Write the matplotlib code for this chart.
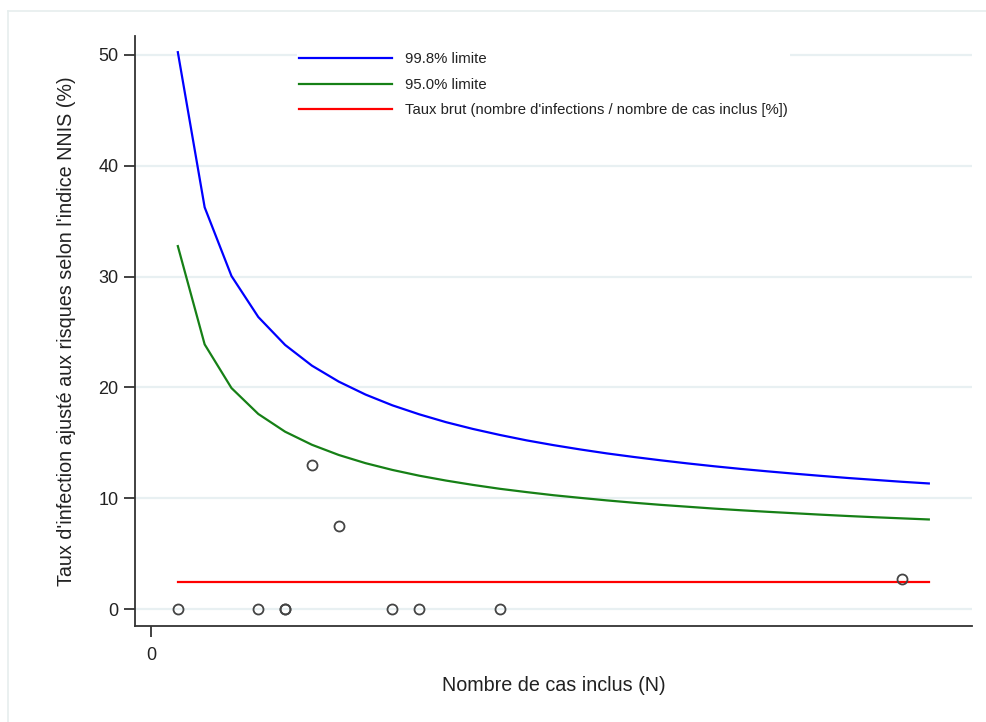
import matplotlib
matplotlib.use("Agg")
import matplotlib.pyplot as plt
from matplotlib.lines import Line2D

plt.rcParams['font.family'] = ['Liberation Sans', 'DejaVu Sans']

# Data
n_cases = list(range(1, 30))
limit_998 = [50.25, 36.25, 30.05, 26.35, 23.83, 21.96, 20.52, 19.35, 18.38, 17.57,
             16.86, 16.25, 15.71, 15.22, 14.79, 14.40, 14.04, 13.72, 13.42, 13.14,
             12.88, 12.64, 12.42, 12.21, 12.01, 11.82, 11.65, 11.48, 11.33]
limit_950 = [32.75, 23.88, 19.94, 17.60, 16.00, 14.82, 13.90, 13.16, 12.55, 12.03,
             11.59, 11.20, 10.85, 10.55, 10.27, 10.03, 9.80, 9.59, 9.40, 9.23,
             9.06, 8.91, 8.77, 8.64, 8.51, 8.39, 8.28, 8.18, 8.08]
crude_rate = 2.45
crude_x = [1, 29]
points_x = [1, 4, 5, 5, 6, 7, 9, 10, 13, 28]
points_y = [0, 0, 0, 0, 13.0, 7.5, 0, 0, 0, 2.7]
yticks = [0, 10, 20, 30, 40, 50]
xticks = [0]

labels = ["99.8% limite", "95.0% limite",
          "Taux brut (nombre d'infections / nombre de cas inclus [%])"]

fig = plt.figure(figsize=(9.86, 7.22), dpi=100)
fig.patch.set_facecolor('white')
ax = fig.add_axes([135/986, 1-626/722, (972-135)/986, (626-36)/722])

txt = '#222222'
ax.set_xlim(-0.597, 30.61)
ax.set_ylim(-1.534, 51.71)

ax.set_yticks(yticks)
ax.set_xticks(xticks)
for y in yticks:
    ax.axhline(y, color='#e8f0f2', lw=1.6, zorder=0)

ax.plot(n_cases, limit_998, color='#0000ff', lw=1.6, zorder=3)
ax.plot(n_cases, limit_950, color='#168016', lw=1.6, zorder=3)
ax.plot(crude_x, [crude_rate, crude_rate], color='#ff0000', lw=1.6, zorder=3)
ax.plot(points_x, points_y, linestyle='none', marker='o', markersize=7.2,
        markerfacecolor='none', markeredgecolor='#444444', markeredgewidth=1.3, zorder=4)

for s in ['top', 'right']:
    ax.spines[s].set_visible(False)
for s in ['left', 'bottom']:
    ax.spines[s].set_color('#333333')
    ax.spines[s].set_linewidth(1.3)

ax.tick_params(axis='both', direction='out', length=8, width=1.3, color='#333333',
               labelsize=13, labelcolor=txt, pad=4)
ax.tick_params(axis='x', pad=7)

ax.set_ylabel("Taux d'infection ajusté aux risques selon l'indice NNIS (%)",
              fontsize=14.2, color=txt, labelpad=16)
ax.set_xlabel("Nombre de cas inclus (N)", fontsize=14.2, color=txt, labelpad=9)

handles = [Line2D([], [], color='#0000ff', lw=1.6),
           Line2D([], [], color='#168016', lw=1.6),
           Line2D([], [], color='#ff0000', lw=1.6)]
leg = ax.legend(handles, labels, loc='upper left',
                bbox_to_anchor=((297-135)/837, (626-50)/590),
                fontsize=10.7, frameon=True, fancybox=False, borderpad=0.15,
                borderaxespad=0, handlelength=6.25, handletextpad=0.85,
                labelspacing=0.78)
leg.get_frame().set_facecolor('white')
leg.get_frame().set_edgecolor('none')
leg.get_frame().set_alpha(1)
for t in leg.get_texts():
    t.set_color(txt)

# faint outer frame
fig.add_artist(Line2D([8/986, 8/986], [0, 1-11/722], transform=fig.transFigure,
                      color='#e6eeee', lw=1.2))
fig.add_artist(Line2D([8/986, 1], [1-11/722, 1-11/722], transform=fig.transFigure,
                      color='#e6eeee', lw=1.2))

fig.savefig('out.png', dpi=100, facecolor='white')
